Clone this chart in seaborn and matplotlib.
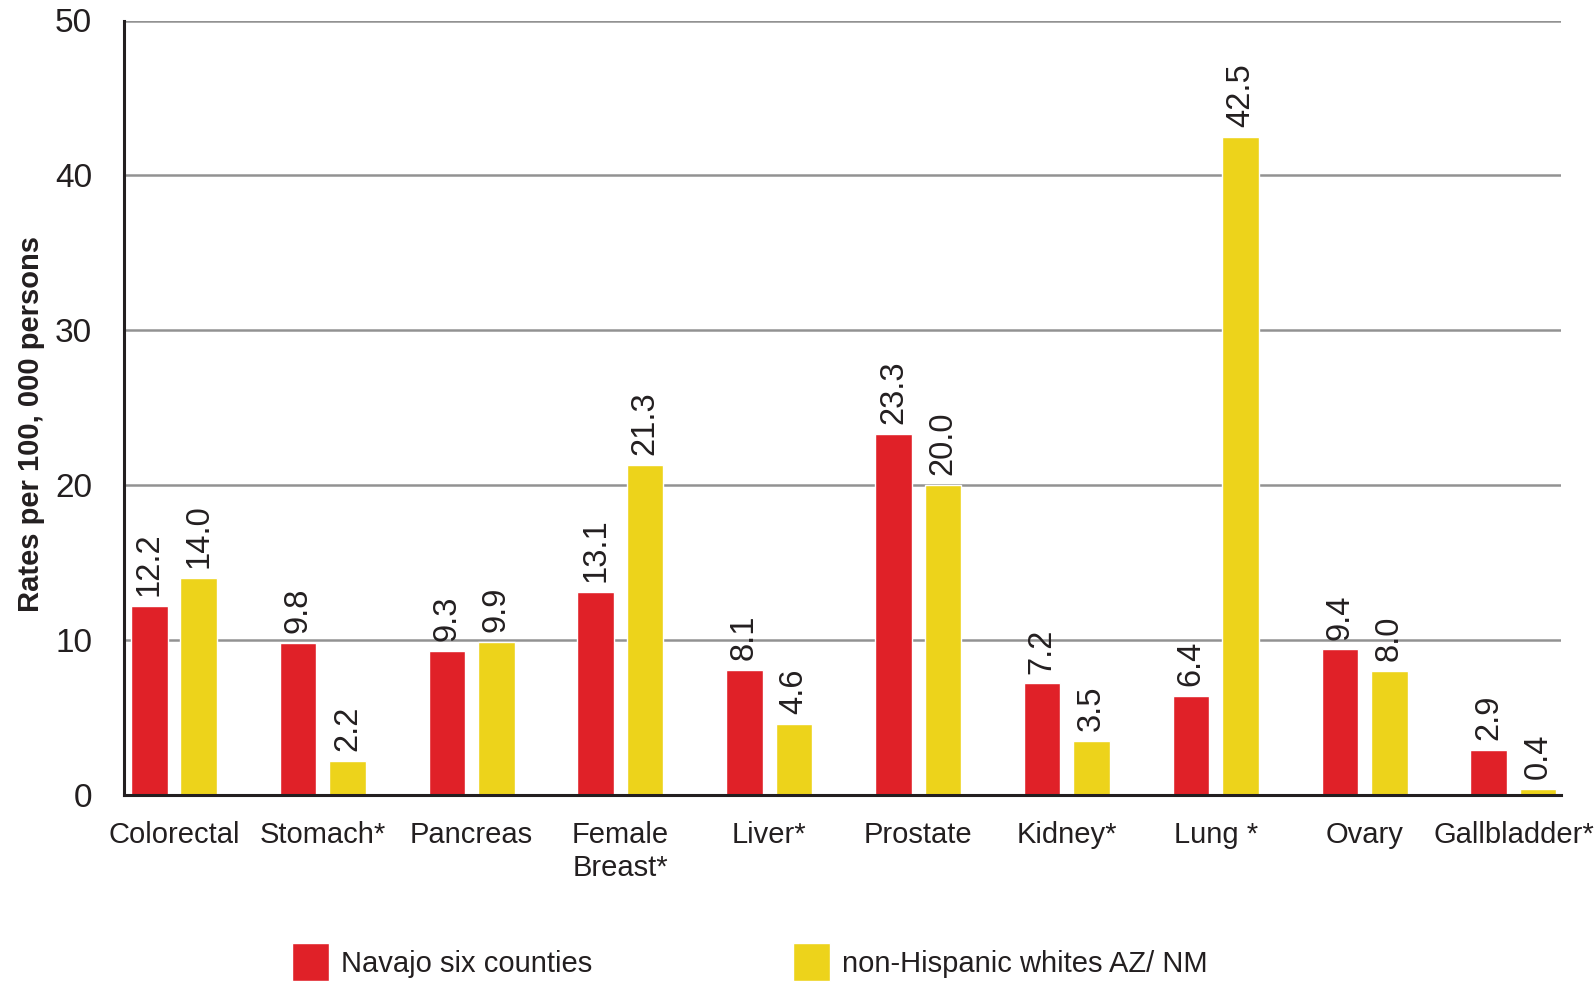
import matplotlib
matplotlib.use("Agg")
import matplotlib.pyplot as plt
import seaborn as sns
import pandas as pd

SITES = ["Colorectal", "Stomach*", "Pancreas", "Female\nBreast*", "Liver*",
         "Prostate", "Kidney*", "Lung *", "Ovary", "Gallbladder*"]
NAVAJO = [12.2, 9.8, 9.3, 13.1, 8.1, 23.3, 7.2, 6.4, 9.4, 2.9]
NHW = [14.0, 2.2, 9.9, 21.3, 4.6, 20.0, 3.5, 42.5, 8.0, 0.4]
GROUPS = ["Navajo six counties", "non-Hispanic whites AZ/ NM"]
COLORS = ["#E02128", "#EDD31B"]
Y_TICKS = [0, 10, 20, 30, 40, 50]

TEXT = "#231F20"

df = pd.DataFrame({
    "site": SITES * 2,
    "rate": NAVAJO + NHW,
    "group": [GROUPS[0]] * len(SITES) + [GROUPS[1]] * len(SITES),
})

sns.set_style("white")
plt.rcParams["font.family"] = ["Liberation Sans", "DejaVu Sans"]

fig = plt.figure(figsize=(15.95, 9.86), dpi=100)
ax = fig.add_axes([124 / 1595, 1 - 795 / 986, 1437 / 1595, (795 - 20.5) / 986])

sns.barplot(data=df, x="site", y="rate", hue="group", palette=COLORS,
            saturation=1, width=0.664, gap=0.26, ax=ax, legend=True)

for c in ax.containers:
    ax.bar_label(c, fmt="%.1f", rotation=90, padding=7, fontsize=23.5, color=TEXT)

ax.set_xlim(-0.336, 9.32)
ax.set_ylim(0, 50)
ax.set_yticks(Y_TICKS)
ax.set_xlabel("")
ax.set_ylabel("")
ax.tick_params(axis="y", length=0, pad=23, labelsize=24, labelcolor=TEXT)
ax.tick_params(axis="x", length=0, pad=19, labelsize=21, labelcolor=TEXT)
for lab in ax.get_xticklabels():
    lab.set_linespacing(1.2)

ax.set_axisbelow(True)
ax.yaxis.grid(True, color="#929292", linewidth=1.8)
sns.despine(ax=ax, top=True, right=True)
for s in ["left", "bottom"]:
    ax.spines[s].set_color(TEXT)
    ax.spines[s].set_linewidth(2.2)
    ax.spines[s].set_zorder(5)

fig.text(31 / 1595, 1 - 424 / 986, "Rates per 100, 000 persons", rotation=90,
         ha="center", va="center", fontsize=21, fontweight="bold", color=TEXT)

handles, labels = ax.get_legend_handles_labels()
ax.get_legend().remove()
fig.legend(handles, labels, loc="center left",
           bbox_to_anchor=(292 / 1595, 1 - 962 / 986), ncol=2, frameon=False,
           fontsize=21, handlelength=1.27, handleheight=1.58,
           handletextpad=0.4, columnspacing=6.9, borderpad=0,
           borderaxespad=0, labelcolor=TEXT)

fig.savefig("out.png", dpi=100)
